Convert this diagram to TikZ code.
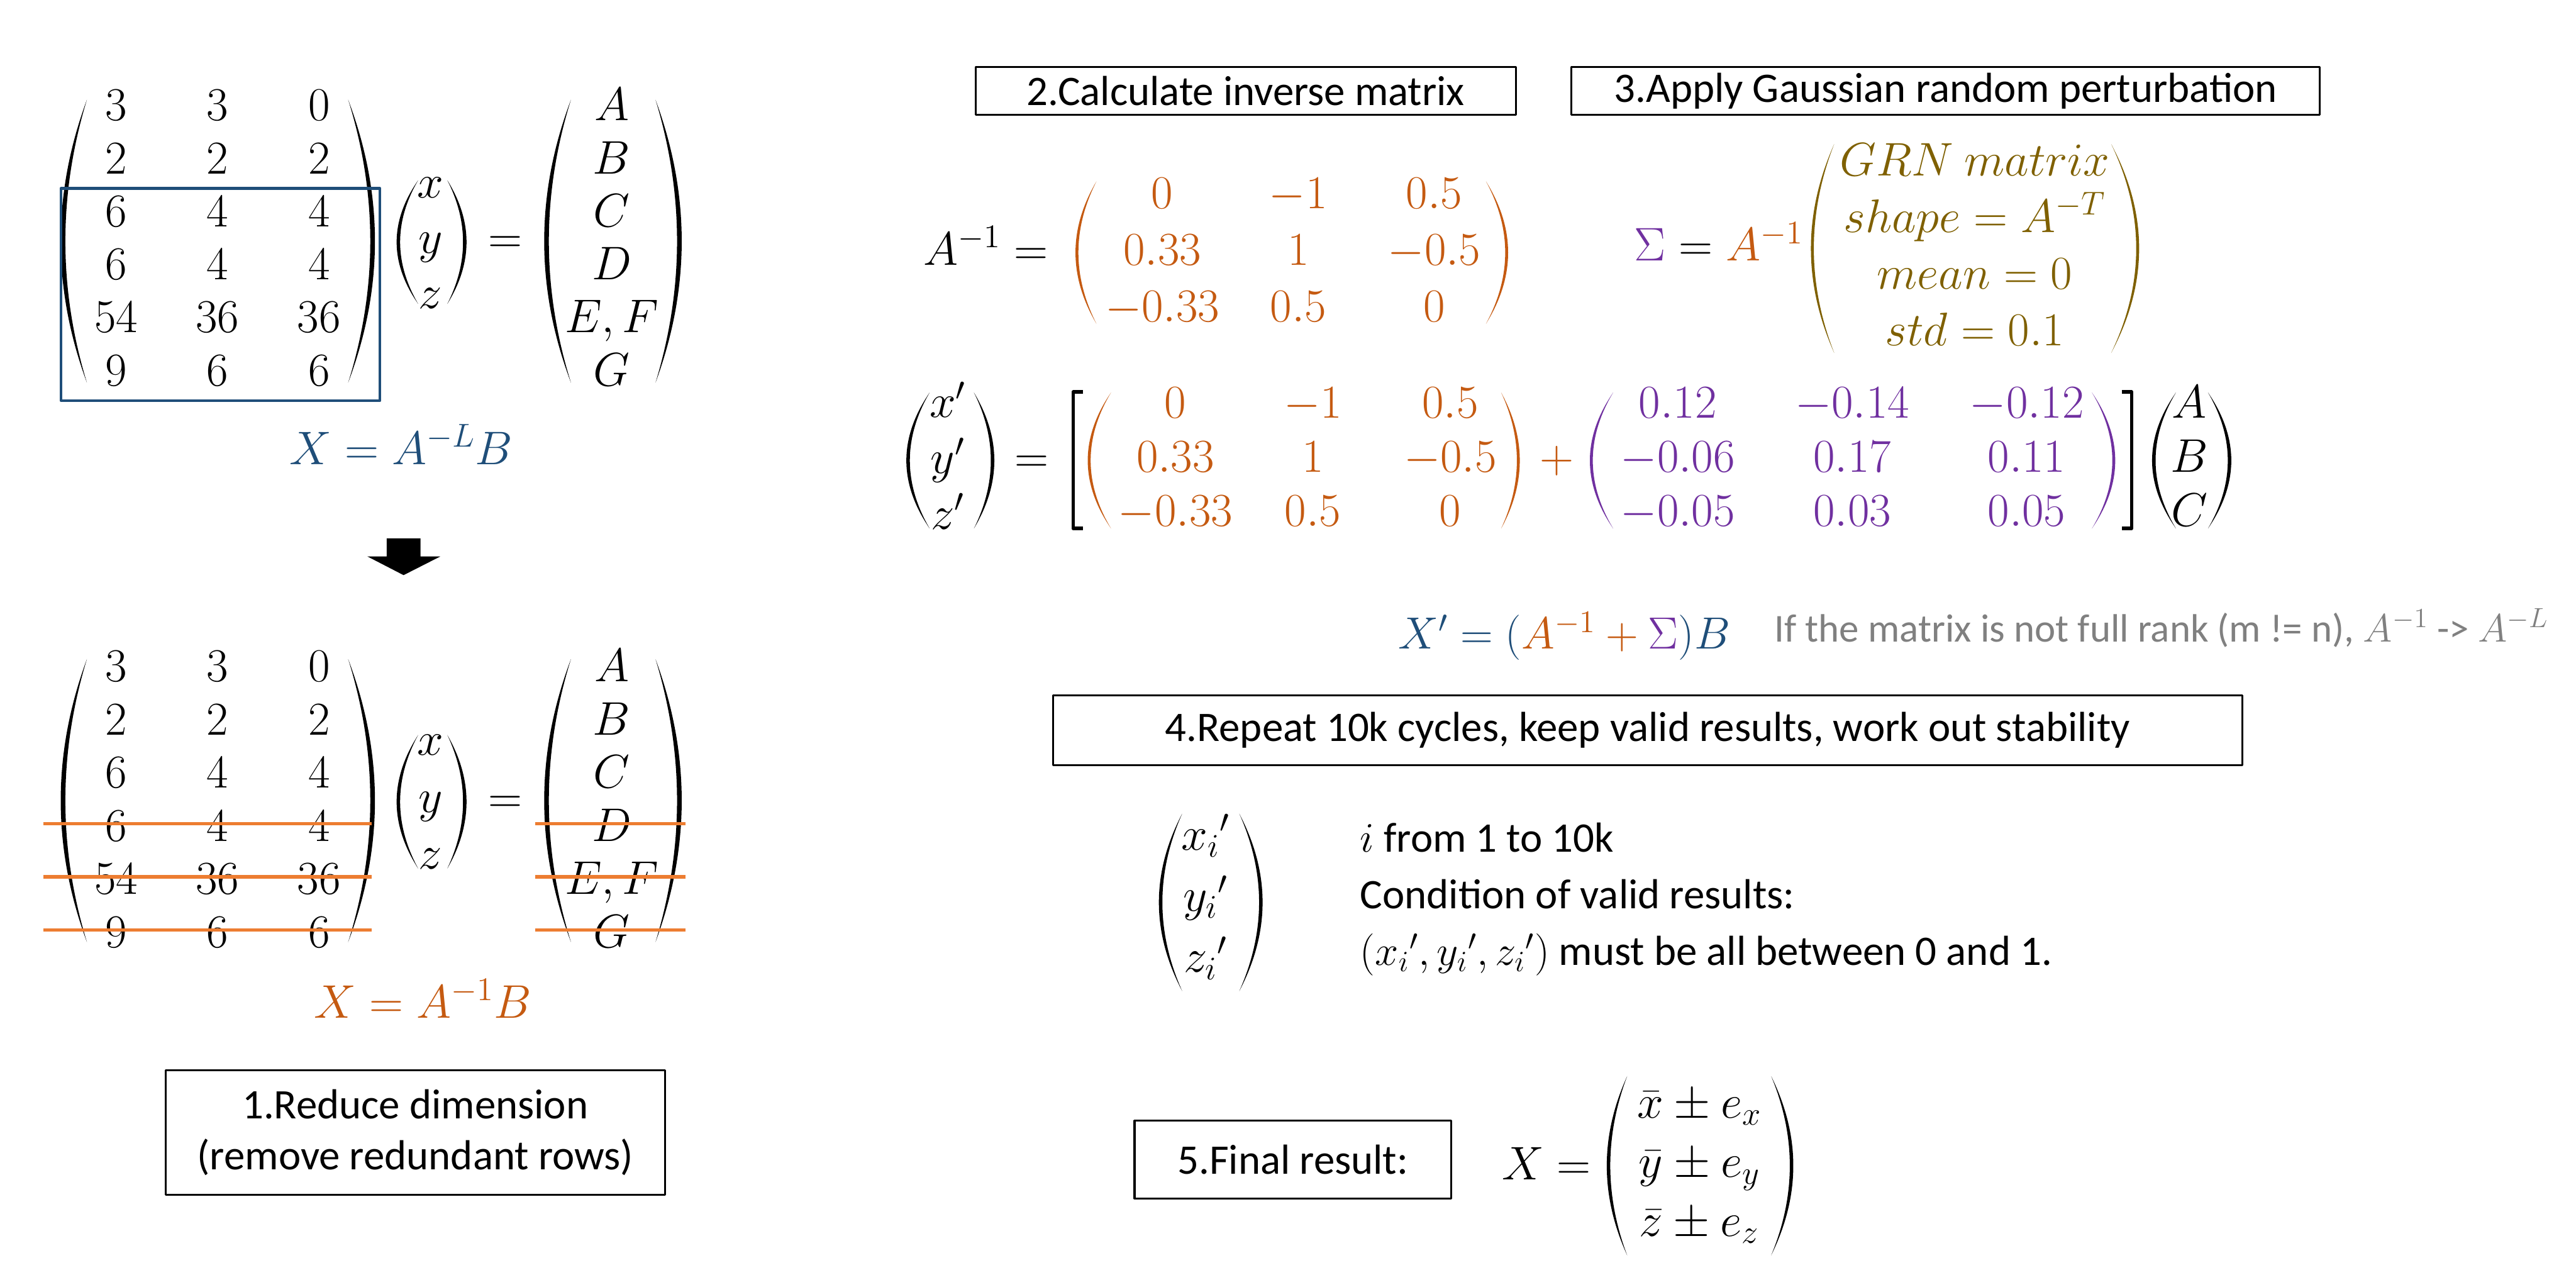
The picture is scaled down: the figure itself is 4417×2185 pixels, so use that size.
\documentclass[tikz,border=0pt]{standalone}
\usepackage{fix-cm}
\usepackage[no-math]{fontspec}
\setmainfont{Carlito}
\usepackage{tikz}
\usetikzlibrary{matrix,fit}
\definecolor{matblue}{HTML}{1F4E79}
\definecolor{matorange}{HTML}{C55A11}
\definecolor{strikeorange}{HTML}{ED7D31}
\definecolor{matpurple}{HTML}{7030A0}
\definecolor{matolive}{HTML}{7F6000}
\definecolor{notegrey}{HTML}{808080}
\tikzset{
  every picture/.style={line join=round},
  txt/.style={font=\fontsize{20.5}{25}\selectfont},
  eq/.style={font=\fontsize{23}{28}\selectfont},
  note/.style={font=\fontsize{19.3}{23}\selectfont, text=notegrey},
  stepbox/.style={draw, line width=1pt, txt, inner sep=0pt, align=center},
  mat/.style={matrix of math nodes, inner sep=0pt, nodes={eq, inner sep=0pt, text height=0.55cm, text depth=0.15cm}},
  strike/.style={draw=strikeorange, line width=1.7pt},
}
% bracket glyphs as filled crescents: [colour] x of ends, top, bottom, bulge, thickness
\newcommand{\lbow}[6][black]{\fill[#1] (#2,#3) .. controls ({#2-1.33*#5},{#3+(#4-#3)/3}) and ({#2-1.33*#5},{#4-(#4-#3)/3}) .. (#2,#4) .. controls ({#2-1.33*(#5-#6)},{#4-(#4-#3)/3}) and ({#2-1.33*(#5-#6)},{#3+(#4-#3)/3}) .. cycle;}
\newcommand{\rbow}[6][black]{\fill[#1] (#2,#3) .. controls ({#2+1.33*#5},{#3+(#4-#3)/3}) and ({#2+1.33*#5},{#4-(#4-#3)/3}) .. (#2,#4) .. controls ({#2+1.33*(#5-#6)},{#4-(#4-#3)/3}) and ({#2+1.33*(#5-#6)},{#3+(#4-#3)/3}) .. cycle;}

\begin{document}
\begin{tikzpicture}[x=0.01cm, y=-0.01cm]
\path[fill=white] (0,0) rectangle (4417,2185);

% step 1: full system, then the reduced one
\matrix (M1) [mat, column sep=0.89cm, row sep=0.208cm, nodes={minimum width=0.85cm}] at (373,414)
  {3 & 3 & 0 \\ 2 & 2 & 2 \\ 6 & 4 & 4 \\ 6 & 4 & 4 \\ 54 & 36 & 36 \\ 9 & 6 & 6 \\};
\matrix (v1) [mat, row sep=0.25cm] at (738,414) {x \\ y \\ z \\};
\matrix (B1) [mat, row sep=0.208cm] at (1049,414) {A \\ B \\ C \\ D \\ E,F \\ G \\};
\lbow{149}{171}{656}{45}{8} \rbow{597}{171}{656}{46}{8}
\lbow{717}{309}{521}{37}{6} \rbow{767}{309}{521}{33}{6}
\lbow{979}{171}{656}{46}{8} \rbow{1124}{171}{656}{45}{8}
\node[eq, anchor=base] (eq1) at (866,434) {$=$};
\node[draw=matblue, line width=1.3pt, fit=(M1-3-1)(M1-6-3), inner xsep=0.56cm, inner ysep=0.1cm, xshift=0.05cm] (keep) {};
\node[eq, text=matblue, anchor=base] (sol1) at (688,796) {$X=A^{-L}B$};

\fill (663,923) -- (721,923) -- (721,954) -- (755,954) -- (692,986) -- (630,954) -- (663,954) -- cycle;

\matrix (M2) [mat, column sep=0.89cm, row sep=0.21cm, nodes={minimum width=0.85cm}] at (373,1376.5)
  {3 & 3 & 0 \\ 2 & 2 & 2 \\ 6 & 4 & 4 \\ 6 & 4 & 4 \\ 54 & 36 & 36 \\ 9 & 6 & 6 \\};
\matrix (v2) [mat, row sep=0.275cm] at (738,1372.5) {x \\ y \\ z \\};
\matrix (B2) [mat, row sep=0.21cm] at (1049,1376.5) {A \\ B \\ C \\ D \\ E,F \\ G \\};
\lbow{149}{1130}{1615}{45}{8} \rbow{597}{1130}{1615}{46}{8}
\lbow{717}{1260}{1489}{37}{6} \rbow{767}{1260}{1489}{33}{6}
\lbow{979}{1130}{1615}{46}{8} \rbow{1124}{1130}{1615}{45}{8}
\node[eq, anchor=base] (eq2) at (866,1394) {$=$};
\foreach \r in {4,5,6}{
  \draw[strike] ([xshift=-1.24cm, yshift=0.1cm]M2-\r-1.center) -- ([xshift=0.9cm, yshift=0.1cm]M2-\r-3.center);
  \draw[strike] ([xshift=-1.31cm, yshift=0.1cm]B2-\r-1.center) -- ([xshift=1.26cm, yshift=0.1cm]B2-\r-1.center);
}
\node[eq, text=matorange, anchor=base] (sol2) at (725,1745) {$X=A^{-1}B$};
\node[stepbox, minimum width=8.56cm, minimum height=2.13cm] (s1) at (712,1941.5) {1.Reduce dimension\\(remove redundant rows)};

% steps 2 and 3
\node[stepbox, minimum width=9.26cm, minimum height=0.82cm] (s2) at (2136,156) {2.Calculate inverse matrix};
\node[stepbox, minimum width=12.82cm, minimum height=0.82cm] (s3) at (3336,156) {3.Apply Gaussian random perturbation};

\node[eq, anchor=base east] (ainv) at (1810,454) {$A^{-1}=$};
\matrix (M3) [mat, column sep=0.23cm, row sep=0.275cm, nodes={minimum width=2.1cm, text=matorange}] at (2226,434.5)
  {0 & -1 & 0.5 \\ 0.33 & 1 & -0.5 \\ -0.33 & 0.5 & 0 \\};
\lbow[matorange]{1880}{311}{555}{36}{5} \rbow[matorange]{2548}{311}{555}{38}{5}

\node[eq, anchor=base west] (sig) at (2790,447) {$\textcolor{matpurple}{\Sigma}=\textcolor{matorange}{A^{-1}}$};
\matrix (S) [mat, row sep=0.27cm, nodes={text=matolive}] at (3386,426.5)
  {GRN\ matrix \\ shape=A^{-T} \\ mean=0 \\ std=0.1 \\};
\lbow[matolive]{3145}{247}{605}{40}{5} \rbow[matolive]{3620}{247}{605}{48}{5}

% perturbed solution
\matrix (Xp) [mat, row sep=0.255cm] at (1625,791.5) {x' \\ y' \\ z' \\};
\lbow{1594}{673}{906}{40}{6} \rbow{1670}{673}{906}{35}{6}
\node[eq, anchor=base] (eq3) at (1769,810) {$=$};
\draw[line width=0.06cm] (1857,672) -- (1840,672) -- (1840,906) -- (1857,906);
\matrix (O) [mat, column sep=0.255cm, row sep=0.225cm, nodes={minimum width=2.1cm, text=matorange}] at (2251,789.5)
  {0 & -1 & 0.5 \\ 0.33 & 1 & -0.5 \\ -0.33 & 0.5 & 0 \\};
\lbow[matorange]{1905}{673}{906}{40}{5} \rbow[matorange]{2574}{673}{906}{32}{5}
\node[eq, anchor=base, text=matorange] (plus) at (2670,810) {$+$};
\matrix (P) [mat, column sep=0.89cm, row sep=0.225cm, nodes={minimum width=2.1cm, text=matpurple}] at (3176,789.5)
  {0.12 & -0.14 & -0.12 \\ -0.06 & 0.17 & 0.11 \\ -0.05 & 0.03 & 0.05 \\};
\lbow[matpurple]{2766}{673}{906}{40}{5} \rbow[matpurple]{3587}{673}{906}{40}{5}
\draw[line width=0.06cm] (3638,672) -- (3655,672) -- (3655,906) -- (3638,906);
\matrix (Bp) [mat, row sep=0.225cm] at (3754,789.5) {A \\ B \\ C \\};
\lbow{3731}{673}{906}{41}{6} \rbow{3786}{673}{906}{40}{6}

\node[eq, font=\fontsize{22}{27}\selectfont, anchor=base west, text=matblue] (xp) at (2385,1112)
  {$X'=(\textcolor{matorange}{A^{-1}}\mathbin{\textcolor{matorange}{+}}\textcolor{matpurple}{\Sigma})B$};
\node[note, anchor=base west] (rank) at (3030,1100) {If the matrix is not full rank (m != n), $A^{-1}$ -> $A^{-L}$};

% step 4
\node[stepbox, minimum width=20.38cm, minimum height=1.2cm] (s4) at (2825,1252) {4.Repeat 10k cycles, keep valid results, work out stability};
\matrix (V) [mat, row sep=0.35cm] at (2067,1542) {{x_i}' \\ {y_i}' \\ {z_i}' \\};
\lbow{2027}{1395}{1699}{40}{6} \rbow{2125}{1395}{1699}{40}{6}
\node[txt, anchor=base west] (c1) at (2320,1461) {$i$ from 1 to 10k};
\node[txt, anchor=base west] (c2) at (2320,1558) {Condition of valid results:};
\node[txt, anchor=base west] (c3) at (2320,1655) {$({x_i}',{y_i}',{z_i}')$ must be all between 0 and 1.};

% step 5
\node[stepbox, minimum width=5.43cm, minimum height=1.33cm] (s5) at (2217,1988) {5.Final result:};
\node[eq, anchor=base west] (xf) at (2563,2022) {$X=$};
\matrix (F) [mat, row sep=0.315cm] at (2914,1998) {\bar{x}\pm e_x \\ \bar{y}\pm e_y \\ \bar{z}\pm e_z \\};
\lbow{2790}{1845}{2152}{35}{6} \rbow{3037}{1845}{2152}{38}{6}
\end{tikzpicture}
\end{document}
